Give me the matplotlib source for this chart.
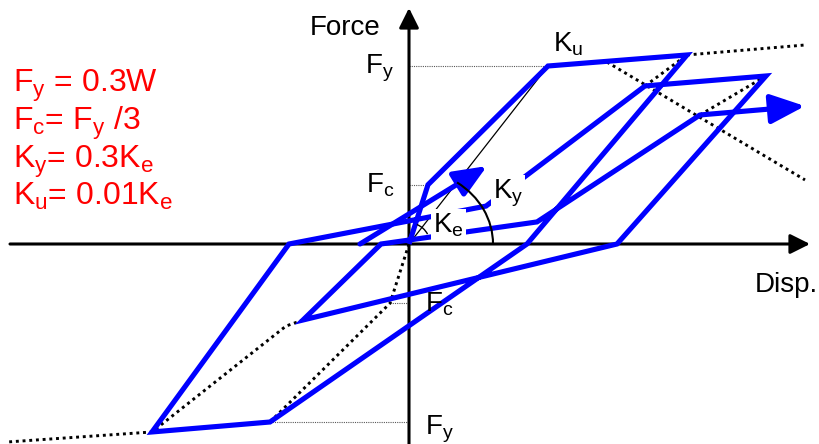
import numpy as np
import matplotlib
matplotlib.use("Agg")
import matplotlib.pyplot as plt
from matplotlib.patches import Arc

plt.rcParams['font.family'] = ['Liberation Sans', 'DejaVu Sans']
plt.rcParams['mathtext.fontset'] = 'custom'
plt.rcParams['mathtext.rm'] = 'Liberation Sans'
plt.rcParams['mathtext.it'] = 'Liberation Sans'

# ---- data (displacement units, force normalised by Fy) ----
# hysteresis path (blue)
blue_disp  = [0.00, 0.19, 1.39, 2.78, 1.18, -1.39, -2.57, -1.20, 0.77, 2.36, 3.57,
              2.08, -1.06, -0.28, 1.28, 2.91, 3.96]
blue_force = [0.000, 0.333, 1.000, 1.062, 0.000, -1.000, -1.056, 0.000, 0.213, 0.888, 0.944,
              0.000, -0.427, 0.000, 0.124, 0.725, 0.775]
# initial direction arrow
arrow_disp  = [-0.49, 0.78]
arrow_force = [0.000, 0.438]
# primary (skeleton) curve, negative side (dotted)
neg_prim_disp  = [0.00, -0.19, -1.39, -2.57, -4.01]
neg_prim_force = [0.000, -0.333, -1.000, -1.056, -1.112]
# Ku extension, positive side (dotted)
pos_ext_disp  = [2.78, 3.96]
pos_ext_force = [1.062, 1.118]
# degraded strength envelope (dotted)
deg_disp  = [1.98, 3.96]
deg_force = [1.022, 0.360]
# target-oriented dotted continuations
aim1_disp, aim1_force = [2.36, 2.78], [0.888, 1.062]
aim2_disp, aim2_force = [2.91, 3.57], [0.725, 0.944]
aim3_disp, aim3_force = [-1.06, -1.23, -2.57], [-0.427, -0.461, -1.056]
# secant line
sec_disp, sec_force = [0.00, 1.39], [0.000, 1.000]
# characteristic levels
Fy, Fc = 1.000, 0.333
dy, dc = 1.39, 0.19

BLUE = '#0000ff'
fig = plt.figure(figsize=(8.2, 4.44), dpi=100)
ax = fig.add_axes([0, 0, 1, 1])
ax.set_xlim(-4.09, 4.11)
ax.set_ylim(-200 / 178, 244 / 178)
ax.axis('off')

# level lines
lev = dict(color='0.35', lw=0.8, ls=(0, (1, 1)), zorder=1)
ax.plot([0, dy], [Fy, Fy], **lev)
ax.plot([0, dc], [Fc, Fc], **lev)
ax.plot([-dc, 0], [-Fc, -Fc], **lev)
ax.plot([-dy, 0], [-Fy, -Fy], **lev)

# axes with arrows
ylo = ax.get_ylim()[0]
ax.annotate('', xy=(4.01, 0), xytext=(-3.99, 0),
            arrowprops=dict(arrowstyle='-|>,head_length=1.2,head_width=0.6', lw=2.2,
                            color='k', shrinkA=0, shrinkB=0, mutation_scale=10), zorder=2)
ax.annotate('', xy=(0, 236 / 178), xytext=(0, ylo),
            arrowprops=dict(arrowstyle='-|>,head_length=1.2,head_width=0.6', lw=2.2,
                            color='k', shrinkA=0, shrinkB=0, mutation_scale=10), zorder=2)

# dotted black lines
dot = dict(color='k', lw=2.1, ls=(0, (1, 1.3)), zorder=2)
ax.plot(neg_prim_disp, neg_prim_force, **dot)
ax.plot(pos_ext_disp, pos_ext_force, **dot)
ax.plot(deg_disp, deg_force, **dot)
ax.plot(aim1_disp, aim1_force, **dot)
ax.plot(aim2_disp, aim2_force, **dot)
ax.plot(aim3_disp, aim3_force, **dot)

# secant
ax.plot(sec_disp, sec_force, color='k', lw=0.9, zorder=2)

# blue path
ax.plot(blue_disp[:-1], blue_force[:-1], color=BLUE, lw=3.7,
        solid_joinstyle='miter', solid_capstyle='butt', zorder=3)
ax.annotate('', xy=(blue_disp[-1], blue_force[-1]), xytext=(blue_disp[-2], blue_force[-2]),
            arrowprops=dict(arrowstyle='-|>,head_length=1.05,head_width=0.45', lw=3.7,
                            color=BLUE, shrinkA=0, shrinkB=0, mutation_scale=20), zorder=3)
ax.annotate('', xy=(arrow_disp[1], arrow_force[1]), xytext=(arrow_disp[0], arrow_force[0]),
            arrowprops=dict(arrowstyle='-|>,head_length=1.0,head_width=0.42', lw=3.7,
                            color=BLUE, shrinkA=0, shrinkB=0, mutation_scale=20), zorder=3)

# labels
lab = dict(fontsize=20, color='k', va='baseline', ha='left', zorder=5)
ax.text(-0.99, 1.174, 'Force', **lab)
ax.text(-0.44, 0.960, r'F$_\mathrm{y}$', **lab)
ax.text(1.44, 1.079, r'K$_\mathrm{u}$', **lab)
ax.text(-0.43, 0.287, r'F$_\mathrm{c}$', **lab)
ax.text(0.84, 0.258, r'K$_\mathrm{y}$', bbox=dict(facecolor='white', edgecolor='none', pad=1.5), **lab)
ax.text(0.24, 0.067, r'K$_\mathrm{e}$', bbox=dict(facecolor='white', edgecolor='none', pad=1.5), **lab)
ax.text(3.46, -0.270, 'Disp.', **lab)
ax.text(0.16, -0.382, r'F$_\mathrm{c}$', **lab)
ax.text(0.16, -1.073, r'F$_\mathrm{y}$', **lab)

# angle arcs
ang_sec = np.degrees(np.arctan2(sec_force[1], sec_disp[1]))
ax.add_patch(Arc((0, 0), width=1.68, height=0.843, theta1=0, theta2=ang_sec,
                 color='k', lw=1.5, zorder=6))
ax.add_patch(Arc((0, 0), width=0.42, height=0.236, theta1=16.7, theta2=54.2,
                 color='k', lw=1.0, zorder=6))

# red parameter text
red = dict(fontsize=23, color='#ff0000', va='baseline', ha='left', zorder=5)
ax.text(-3.96, 0.854, r'F$_\mathrm{y}$ = 0.3W', **red)
ax.text(-3.96, 0.640, r'F$_\mathrm{c}$= F$_\mathrm{y}$ /3', **red)
ax.text(-3.96, 0.427, r'K$_\mathrm{y}$= 0.3K$_\mathrm{e}$', **red)
ax.text(-3.96, 0.219, r'K$_\mathrm{u}$= 0.01K$_\mathrm{e}$', **red)

fig.savefig('out.png', dpi=100)
